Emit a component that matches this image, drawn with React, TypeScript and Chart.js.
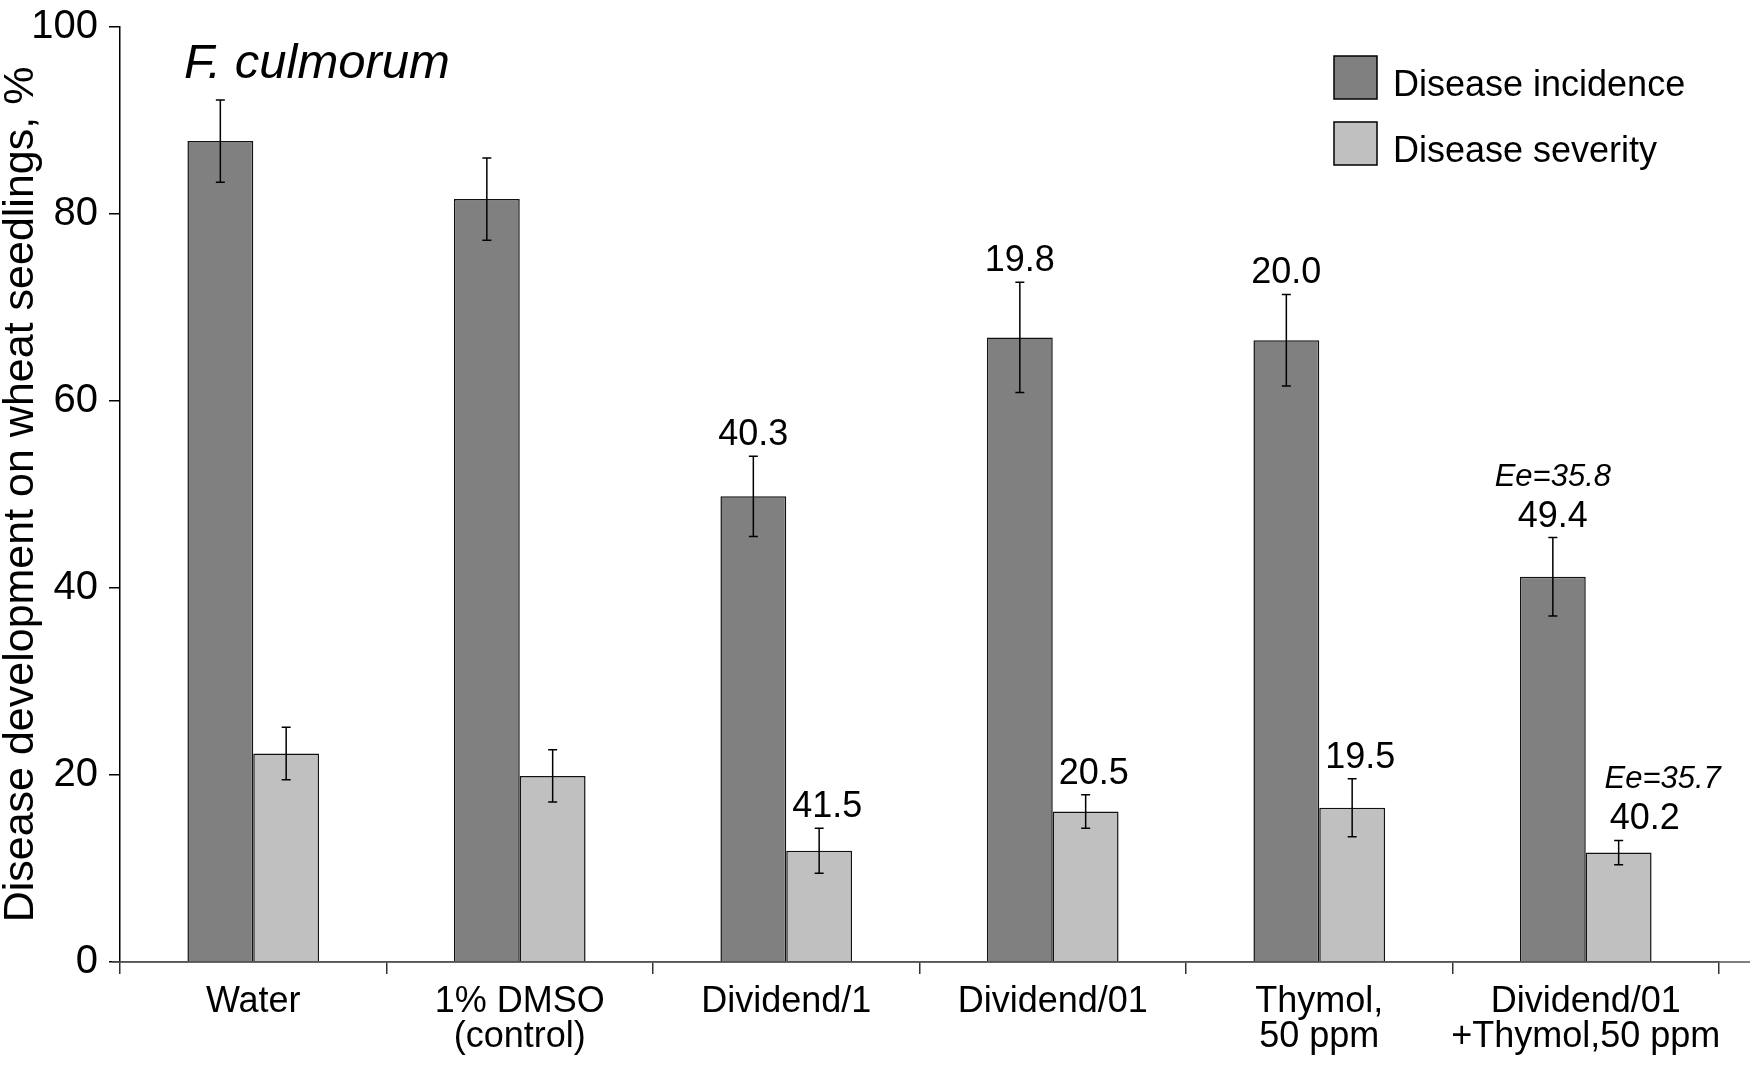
import React, { useRef, useEffect } from 'react';
import { Chart, registerables } from 'chart.js';

Chart.register(...registerables);

const FONT = '"Liberation Sans", Arial, sans-serif';

// data
const categories = [
  'Water',
  ['1% DMSO', '(control)'],
  'Dividend/1',
  'Dividend/01',
  ['Thymol,', '50 ppm'],
  ['Dividend/01', '+Thymol,50 ppm'],
];
const incidence = [87.8, 81.6, 49.8, 66.8, 66.5, 41.2];
const incidenceErr = [4.4, 4.4, 4.3, 5.9, 4.9, 4.2];
const severity = [22.3, 19.9, 11.9, 16.1, 16.5, 11.7];
const severityErr = [2.8, 2.8, 2.4, 1.8, 3.1, 1.3];
const incidenceLabels = ['', '', '40.3', '19.8', '20.0', '49.4'];
const severityLabels = ['', '', '41.5', '20.5', '19.5', '40.2'];
const incidenceEe = ['', '', '', '', '', 'Ee=35.8'];
const severityEe = ['', '', '', '', '', 'Ee=35.7'];
const yTicks = [0, 20, 40, 60, 80, 100];

const errors = [incidenceErr, severityErr];
const valueLabels = [incidenceLabels, severityLabels];
const eeLabels = [incidenceEe, severityEe];

// error bars + numbers above them
const annotatePlugin = {
  id: 'annotate',
  afterDatasetsDraw(chart: any) {
    const { ctx } = chart;
    const y = chart.scales.y;
    ctx.save();
    chart.data.datasets.forEach((ds: any, i: number) => {
      const meta = chart.getDatasetMeta(i);
      meta.data.forEach((bar: any, j: number) => {
        const v = ds.data[j];
        const e = errors[i][j];
        const top = y.getPixelForValue(v + e);
        const bot = y.getPixelForValue(v - e);
        ctx.strokeStyle = '#000';
        ctx.lineWidth = 1.5;
        ctx.beginPath();
        ctx.moveTo(bar.x, top);
        ctx.lineTo(bar.x, bot);
        ctx.moveTo(bar.x - 4.5, top);
        ctx.lineTo(bar.x + 4.5, top);
        ctx.moveTo(bar.x - 4.5, bot);
        ctx.lineTo(bar.x + 4.5, bot);
        ctx.stroke();

        ctx.fillStyle = '#000';
        ctx.textAlign = 'center';
        ctx.textBaseline = 'alphabetic';
        // severity notes sit a little right of their bars
        const hasEe = !!eeLabels[i][j];
        const shift = i === 1 ? (hasEe ? 26 : 8) : 0;
        if (valueLabels[i][j]) {
          ctx.font = `36px ${FONT}`;
          ctx.fillText(valueLabels[i][j], bar.x + shift, top - 11);
        }
        if (hasEe) {
          ctx.font = `italic 31px ${FONT}`;
          ctx.fillText(eeLabels[i][j], bar.x + (i === 1 ? 44 : 0), top - 52);
        }
      });
    });
    ctx.restore();
  },
  afterDraw(chart: any) {
    const { ctx, chartArea } = chart;
    ctx.save();
    // axis line runs out to the right edge
    ctx.strokeStyle = '#555';
    ctx.lineWidth = 1.5;
    ctx.beginPath();
    ctx.moveTo(chartArea.left - 8, chartArea.bottom);
    ctx.lineTo(chart.width, chartArea.bottom);
    ctx.stroke();

    // panel title
    ctx.fillStyle = '#000';
    ctx.textAlign = 'left';
    ctx.textBaseline = 'alphabetic';
    ctx.font = `italic 49px ${FONT}`;
    ctx.fillText('F. culmorum', 184, 78);

    // legend
    ctx.font = `36px ${FONT}`;
    chart.data.datasets.forEach((ds: any, i: number) => {
      const bx = 1334;
      const by = 56 + i * 66;
      ctx.fillStyle = ds.backgroundColor;
      ctx.fillRect(bx, by, 43, 43);
      ctx.strokeStyle = '#000';
      ctx.lineWidth = 1.5;
      ctx.strokeRect(bx, by, 43, 43);
      ctx.fillStyle = '#000';
      ctx.fillText(ds.label, 1393, by + 40);
    });
    ctx.restore();
  },
};

const BarChart: React.FC = () => {
  const canvasRef = useRef<HTMLCanvasElement>(null);
  const chartRef = useRef<Chart | null>(null);

  useEffect(() => {
    if (!canvasRef.current) return;
    const ctx = canvasRef.current.getContext('2d');
    if (!ctx) return;
    chartRef.current = new Chart(ctx, {
      type: 'bar',
      data: {
        labels: categories as any,
        datasets: [
          {
            label: 'Disease incidence',
            data: incidence,
            backgroundColor: '#808080',
            borderColor: '#111',
            borderWidth: 1.5,
          },
          {
            label: 'Disease severity',
            data: severity,
            backgroundColor: '#c0c0c0',
            borderColor: '#111',
            borderWidth: 1.5,
          },
        ],
      },
      options: {
        animation: false,
        responsive: true,
        maintainAspectRatio: false,
        layout: { padding: { top: 27, right: 31, left: 0, bottom: 0 } },
        datasets: { bar: { categoryPercentage: 0.494, barPercentage: 1 } },
        plugins: {
          legend: { display: false },
          tooltip: { enabled: false },
        },
        scales: {
          x: {
            grid: {
              display: true,
              drawOnChartArea: false,
              drawTicks: true,
              tickLength: 12,
              color: '#333',
              lineWidth: 1.5,
              offset: true,
            },
            border: { color: '#555', width: 1.5 },
            ticks: {
              color: '#000',
              padding: 11,
              maxRotation: 0,
              autoSkip: false,
              font: { family: FONT, size: 36, lineHeight: 0.97 },
            },
            afterFit: (scale: any) => {
              scale.height = 106;
            },
          },
          y: {
            min: 0,
            max: 100,
            afterBuildTicks: (scale: any) => {
              scale.ticks = yTicks.map((v) => ({ value: v }));
            },
            grid: {
              drawOnChartArea: false,
              drawTicks: true,
              tickLength: 11,
              color: '#000',
              lineWidth: 1.5,
            },
            border: { color: '#000', width: 1.5 },
            ticks: {
              color: '#000',
              padding: 11,
              font: { family: FONT, size: 40 },
            },
            title: {
              display: true,
              text: 'Disease development on wheat seedlings, %',
              color: '#000',
              padding: { top: 0, bottom: 0 },
              font: { family: FONT, size: 43, lineHeight: 1.0 },
            },
            afterFit: (scale: any) => {
              scale.width = 120;
              scale.paddingTop = 0;
              scale.paddingBottom = 0;
            },
          },
        },
      },
      plugins: [annotatePlugin],
    });

    return () => {
      if (chartRef.current) {
        chartRef.current.destroy();
        chartRef.current = null;
      }
    };
  }, []);

  return <canvas ref={canvasRef} />;
};

export default function App() {
  return (
    <div
      style={{
        position: 'fixed',
        left: 0,
        top: 0,
        width: 1750,
        height: 1068,
        background: '#fff',
      }}
    >
      <BarChart />
    </div>
  );
}
